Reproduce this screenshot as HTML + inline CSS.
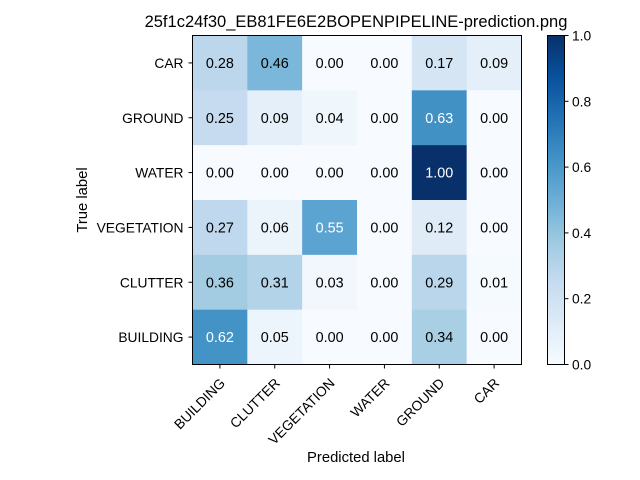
<!DOCTYPE html>
<html><head><meta charset="utf-8"><style>
body{margin:0;background:#fff;}
svg{display:block;font-family:"Liberation Sans","DejaVu Sans",sans-serif;}
</style></head><body>
<svg id="chart" width="640" height="480" viewBox="0 0 640 480">
<rect width="640" height="480" fill="#fff"/>
<text x="356" y="27" font-size="16.5" text-anchor="middle">25f1c24f30_EB81FE6E2BOPENPIPELINE-prediction.png</text>
<g id="cells"></g>
<rect x="192.5" y="35.5" width="329" height="329" fill="none" stroke="#000" stroke-width="1"/>
<g id="axes"></g>
<text x="356" y="462" font-size="14.8" text-anchor="middle">Predicted label</text>
<text transform="translate(87,200) rotate(-90)" font-size="14.8" text-anchor="middle">True label</text>
<defs><linearGradient id="cbg" x1="0" y1="1" x2="0" y2="0">
<stop offset="0" stop-color="#f7fbff"/><stop offset="0.125" stop-color="#deebf7"/><stop offset="0.25" stop-color="#c6dbef"/><stop offset="0.375" stop-color="#9ecae1"/><stop offset="0.5" stop-color="#6baed6"/><stop offset="0.625" stop-color="#4292c6"/><stop offset="0.75" stop-color="#2171b5"/><stop offset="0.875" stop-color="#08519c"/><stop offset="1" stop-color="#08306b"/></linearGradient></defs>
<rect x="547.5" y="35.5" width="17" height="329" fill="url(#cbg)" stroke="#000" stroke-width="1"/>
<g id="cbticks"></g>
</svg>
<script>
const rowLabels=["CAR","GROUND","WATER","VEGETATION","CLUTTER","BUILDING"];
const colLabels=["BUILDING","CLUTTER","VEGETATION","WATER","GROUND","CAR"];
const values=[
[0.28,0.46,0.00,0.00,0.17,0.09],
[0.25,0.09,0.04,0.00,0.63,0.00],
[0.00,0.00,0.00,0.00,1.00,0.00],
[0.27,0.06,0.55,0.00,0.12,0.00],
[0.36,0.31,0.03,0.00,0.29,0.01],
[0.62,0.05,0.00,0.00,0.34,0.00]];
const cbTicks=[0,0.2,0.4,0.6,0.8,1.0];
const NS="http://www.w3.org/2000/svg";
const L=192.5,T=35.5,W=329,H=329;
const cw=W/colLabels.length, rh=H/rowLabels.length;
const stops=[[247,251,255],[222,235,247],[198,219,239],[158,202,225],[107,174,214],[66,146,198],[33,113,181],[8,81,156],[8,48,107]];
function cmap(v){v=Math.max(0,Math.min(1,v));const p=v*8,i=Math.min(7,Math.floor(p)),f=p-i;
const c=stops[i].map((a,k)=>Math.round(a+(stops[i+1][k]-a)*f));return `rgb(${c})`;}
function xc(j){return L+cw*(j+0.5);}
function yc(i){return T+rh*(i+0.5);}
function mk(tag,attrs,parent){const e=document.createElementNS(NS,tag);for(const k in attrs)e.setAttribute(k,attrs[k]);parent.appendChild(e);return e;}
const cells=document.getElementById('cells'),axes=document.getElementById('axes'),cb=document.getElementById('cbticks');
values.forEach((row,i)=>row.forEach((v,j)=>{
 const r=mk('rect',{x:L+cw*j,y:T+rh*i,width:cw+0.3,height:rh+0.3,fill:cmap(v)},cells);
 
 
 const t=mk('text',{x:xc(j),y:yc(i)+5,'font-size':14.4,'text-anchor':'middle',fill:v>0.5?'#fff':'#000'},cells);
 t.textContent=v.toFixed(2);
 
 
}));
rowLabels.forEach((s,i)=>{
 mk('line',{x1:L-4,x2:L,y1:yc(i),y2:yc(i),stroke:'#000'},axes);
 const t=mk('text',{x:L-9,y:yc(i)+5,'font-size':13.8,'text-anchor':'end'},axes);
 t.textContent=s;
 
 
});
colLabels.forEach((s,j)=>{
 mk('line',{x1:xc(j),x2:xc(j),y1:T+H,y2:T+H+4,stroke:'#000'},axes);
 const px=xc(j)+6,py=384;
 const t=mk('text',{x:px,y:py,'font-size':13.8,'text-anchor':'end',transform:`rotate(-45 ${px} ${py})`},axes);
 t.textContent=s;
 
 
});
cbTicks.forEach(v=>{
 const y=T+H-v*H;
 mk('line',{x1:564.5,x2:568.5,y1:y,y2:y,stroke:'#000'},cb);
 const t=mk('text',{x:572,y:y+5,'font-size':13.8},cb);
 t.textContent=v.toFixed(1);
 
 
});
</script>
</body></html>
